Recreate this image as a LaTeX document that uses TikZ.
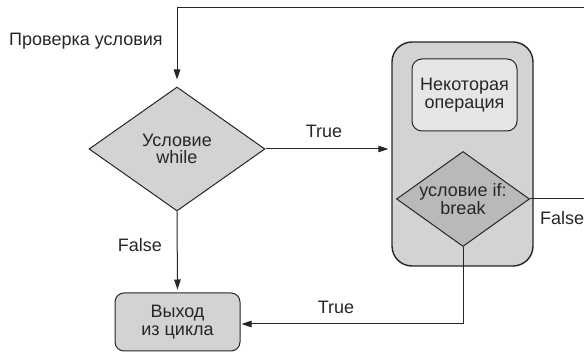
\documentclass[tikz,border=0pt]{standalone}
\usepackage{fontspec}
\setmainfont{Liberation Sans}
\usetikzlibrary{shapes.geometric,arrows.meta}
\definecolor{ink}{HTML}{262626}
\definecolor{boxgray}{HTML}{D3D3D3}
\definecolor{lightgray}{HTML}{E6E6E6}
\definecolor{darkgray}{HTML}{B9B9B9}
\begin{document}
\begin{tikzpicture}[x=1pt,y=-1pt,
  every node/.style={font=\fontsize{18}{17.5}\selectfont, text=ink, align=center},
  line/.style={draw=ink, line width=1pt},
  arr/.style={line, -{Triangle[length=10pt,width=6.5pt]}},
  decision/.style={diamond, draw=ink, line width=1pt, inner sep=0pt},
  block/.style={rectangle, draw=ink, line width=1pt, inner sep=0pt},
  lbl/.style={inner sep=0pt}]
  \useasboundingbox (0,0) rectangle (584,352);
  \clip (0,0) rectangle (584,352);

  % loop body container
  \node[block, fill=boxgray, line width=1.4pt, rounded corners=20pt,
        minimum width=141pt, minimum height=224pt] (body) at (462.5,154) {};
  \node[block, fill=lightgray, rounded corners=10pt,
        minimum width=105pt, minimum height=72pt] (op) at (464.5,95)
        {Некоторая\\операция};
  \node[decision, fill=darkgray, minimum width=133pt, minimum height=95pt,
        shape aspect=1.4] (ifd) at (463,199) {условие if:\\break};

  % while condition and exit
  \node[decision, fill=boxgray, minimum width=176pt, minimum height=124pt,
        shape aspect=1.42] (wd) at (177,149) {Условие\\while};
  \node[block, fill=boxgray, rounded corners=9pt,
        minimum width=125pt, minimum height=58pt] (ex) at (177.5,322)
        {Выход\\из цикла};

  % connectors
  \coordinate (loop) at (592,8);
  \draw[arr, shorten >=7pt] (ifd.east) -| (loop) -| (wd.north);
  \draw[arr, shorten >=3pt] (wd.east) -- (wd.east -| body.west);
  \draw[arr, shorten >=3pt] (wd.south) -- (ex.north);
  \coordinate (brk) at (463,324);
  \draw[arr, shorten >=1pt] (ifd.south) -- (brk) -- (brk -| ex.east);

  % labels
  \node[lbl] (lcheck) at (86,41) {Проверка условия};
  \node[lbl] (ltrue1) at (324,131) {True};
  \node[lbl] (lfalse1) at (140,245) {False};
  \node[lbl, anchor=west] (lfalse2) at (540,218) {False};
  \node[lbl] (ltrue2) at (336,307) {True};
\end{tikzpicture}
\end{document}
